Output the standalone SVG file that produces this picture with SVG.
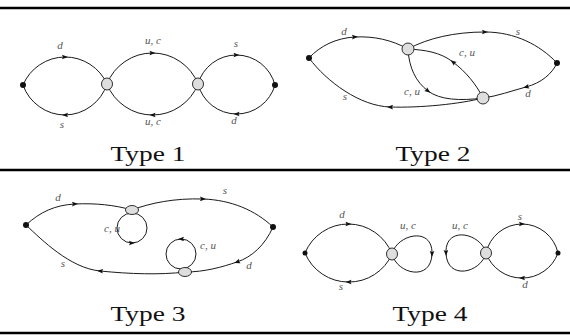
<svg xmlns="http://www.w3.org/2000/svg" width="570" height="335" viewBox="0 0 570 335">
  <style>
    .rule { stroke: #000; stroke-width: 2.6; }
    .edge { fill: none; stroke: #1a1a1a; stroke-width: 1; marker-mid: url(#arr); }
    .vtx { fill: #111; }
    .blob { fill: #dedede; stroke: #1a1a1a; stroke-width: 0.9; }
    .lbl { font-family: "Liberation Serif", "DejaVu Serif", serif; font-style: italic; font-size: 11px; fill: #555; text-anchor: middle; }
    .cap { font-family: "Liberation Serif", "DejaVu Serif", serif; font-size: 20px; fill: #111; text-anchor: middle; }
  </style>
  <defs>
    <marker id="arr" markerUnits="userSpaceOnUse" markerWidth="8" markerHeight="8" viewBox="-4 -4 8 8" refX="0" refY="0" orient="auto">
      <path d="M3,0 L-3,-2.3 L-2,0 L-3,2.3 z" fill="#111"/>
    </marker>
  </defs>
  <rect width="570" height="335" fill="#fff"/>

  <!-- table rules -->
  <g id="rules">
    <line class="rule" x1="0" y1="8" x2="570" y2="8"/>
    <line class="rule" x1="0" y1="170" x2="570" y2="170"/>
    <line class="rule" x1="0" y1="333" x2="570" y2="333"/>
  </g>

  <!-- connectors -->
  <g id="connectors">
    <!-- Type 1 -->
    <path class="edge" d="M23,85 A46,46 0 0 1 65,57 A46,46 0 0 1 107,84"/>
    <path class="edge" d="M107,84 A45,45 0 0 1 65,115 A45,45 0 0 1 23,85"/>
    <path class="edge" d="M107,84 A49,49 0 0 1 152.5,53 A49,49 0 0 1 198,84"/>
    <path class="edge" d="M198,84 A49,49 0 0 1 152.5,115 A49,49 0 0 1 107,84"/>
    <path class="edge" d="M198,84 A40,40 0 0 1 236.5,55 A40,40 0 0 1 275,85"/>
    <path class="edge" d="M275,85 A40,40 0 0 1 236.5,114 A40,40 0 0 1 198,84"/>
    <!-- Type 2 -->
    <path class="edge" d="M309,58 C320,46 336,38 355,37 S392,40 408,49"/>
    <path class="edge" d="M408,49 C428,38 455,32 485,32 S540,45 557,63"/>
    <path class="edge" d="M557,63 C552,74 541,83 526,87 S498,96 483,98"/>
    <path class="edge" d="M483,98 C460,104 420,108 390,107 S327,82 309,58"/>
    <path class="edge" d="M408,49 C409,68 416,82 428,91 S460,101 483,98"/>
    <path class="edge" d="M483,98 C476,84 466,72 453,62 S425,50 408,49"/>
    <!-- Type 3 -->
    <path class="edge" d="M26,225 C40,212 55,205 75,204 S115,205 132,210"/>
    <path class="edge" d="M132,210 C150,203 175,198 203,199 S255,210 273,227"/>
    <path class="edge" d="M273,227 C265,245 252,257 237,262 S205,272 185,272"/>
    <path class="edge" d="M185,272 C160,275 130,274 100,271 S42,240 26,225"/>
    <path class="edge" d="M132,213 A15,15 0 0 0 132,243 A15,15 0 0 0 132,213"/>
    <path class="edge" d="M181,269 A15,15 0 0 0 181,239 A15,15 0 0 0 181,269"/>
    <!-- Type 4 -->
    <path class="edge" d="M305,253 A47,47 0 0 1 348.5,224 A47,47 0 0 1 392,254"/>
    <path class="edge" d="M392,254 A47,47 0 0 1 348.5,282 A47,47 0 0 1 305,253"/>
    <path class="edge" d="M486,253 A37,37 0 0 1 522,224 A37,37 0 0 1 558,253"/>
    <path class="edge" d="M558,253 A38,38 0 0 1 522,278 A38,38 0 0 1 486,253"/>
    <path class="edge" d="M392,254 C397,234 433,226 432,254 S397,274 392,254"/>
    <path class="edge" d="M486,253 C481,233 445,225 446,253 S481,273 486,253"/>
  </g>

  <!-- Type 1 nodes -->
  <g id="t1-ext-left"><circle class="vtx" cx="23" cy="85" r="3"/></g>
  <g id="t1-vertex-a"><ellipse class="blob" cx="107" cy="84" rx="5.5" ry="6"/></g>
  <g id="t1-vertex-b"><ellipse class="blob" cx="198" cy="84" rx="5.5" ry="6"/></g>
  <g id="t1-ext-right"><circle class="vtx" cx="275" cy="85" r="3"/></g>

  <!-- Type 2 nodes -->
  <g id="t2-ext-left"><circle class="vtx" cx="309" cy="58" r="3"/></g>
  <g id="t2-vertex-a"><ellipse class="blob" cx="408" cy="49" rx="6" ry="6"/></g>
  <g id="t2-vertex-b"><ellipse class="blob" cx="483" cy="98" rx="6" ry="6"/></g>
  <g id="t2-ext-right"><circle class="vtx" cx="557" cy="63" r="3"/></g>

  <!-- Type 3 nodes -->
  <g id="t3-ext-left"><circle class="vtx" cx="26" cy="225" r="3"/></g>
  <g id="t3-vertex-a"><ellipse class="blob" cx="132" cy="210" rx="6.5" ry="4.5"/></g>
  <g id="t3-vertex-b"><ellipse class="blob" cx="185" cy="272" rx="6.5" ry="4.5"/></g>
  <g id="t3-ext-right"><circle class="vtx" cx="273" cy="227" r="3"/></g>

  <!-- Type 4 nodes -->
  <g id="t4-ext-left"><circle class="vtx" cx="305" cy="253" r="2.5"/></g>
  <g id="t4-vertex-a"><ellipse class="blob" cx="392" cy="254" rx="5.5" ry="6"/></g>
  <g id="t4-vertex-b"><ellipse class="blob" cx="486" cy="253" rx="5.5" ry="6"/></g>
  <g id="t4-ext-right"><circle class="vtx" cx="558" cy="253" r="2.5"/></g>

  <!-- edge labels -->
  <g id="labels">
    <text class="lbl" x="60" y="49">d</text>
    <text class="lbl" x="153" y="44">u, c</text>
    <text class="lbl" x="236" y="47">s</text>
    <text class="lbl" x="62" y="128">s</text>
    <text class="lbl" x="153" y="125">u, c</text>
    <text class="lbl" x="234" y="124">d</text>

    <text class="lbl" x="344" y="35">d</text>
    <text class="lbl" x="518" y="35">s</text>
    <text class="lbl" x="467" y="56">c, u</text>
    <text class="lbl" x="412" y="95">c, u</text>
    <text class="lbl" x="345" y="100">s</text>
    <text class="lbl" x="528" y="97">d</text>

    <text class="lbl" x="58" y="201">d</text>
    <text class="lbl" x="225" y="194">s</text>
    <text class="lbl" x="112" y="232">c, u</text>
    <text class="lbl" x="208" y="249">c, u</text>
    <text class="lbl" x="63" y="267">s</text>
    <text class="lbl" x="249" y="269">d</text>

    <text class="lbl" x="342" y="218">d</text>
    <text class="lbl" x="408" y="229">u, c</text>
    <text class="lbl" x="460" y="229">u, c</text>
    <text class="lbl" x="520" y="220">s</text>
    <text class="lbl" x="341" y="290">s</text>
    <text class="lbl" x="525" y="288">d</text>
  </g>

  <!-- captions -->
  <g id="captions">
    <text class="cap" x="148" y="161" textLength="75" lengthAdjust="spacingAndGlyphs">Type 1</text>
    <text class="cap" x="433" y="161" textLength="75" lengthAdjust="spacingAndGlyphs">Type 2</text>
    <text class="cap" x="148" y="321" textLength="75" lengthAdjust="spacingAndGlyphs">Type 3</text>
    <text class="cap" x="430" y="321" textLength="75" lengthAdjust="spacingAndGlyphs">Type 4</text>
  </g>
</svg>
